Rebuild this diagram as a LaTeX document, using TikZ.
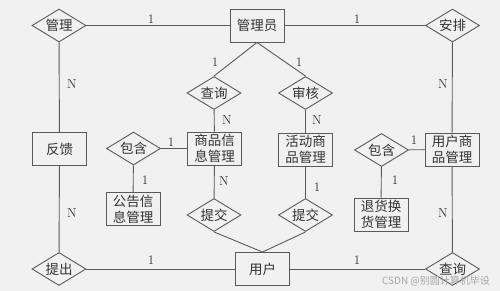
\documentclass[tikz,border=0pt]{standalone}
\usepackage{fontspec}
\newfontfamily\cjk{Noto Sans CJK SC}
\usetikzlibrary{shapes.geometric}
\definecolor{bgc}{HTML}{F1F1F1}
\definecolor{linec}{HTML}{5A5A5A}
\definecolor{txtc}{HTML}{333333}
\tikzset{
  ent/.style={draw=linec, line width=0.9pt, rectangle, minimum width=54pt, minimum height=33pt, inner sep=0pt, align=center, font=\cjk\fontsize{13.5}{16}\selectfont, text=txtc},
  rel/.style={draw=linec, line width=0.9pt, diamond, shape aspect=1.6, minimum width=54pt, minimum height=33pt, inner sep=0pt, font=\cjk\fontsize{13.5}{15}\selectfont, text=txtc},
  conn/.style={draw=linec, line width=0.9pt},
  card/.style={font=\fontsize{13}{15}\selectfont, text=txtc, inner sep=0pt}
}
\begin{document}
\begin{tikzpicture}[x=1pt, y=-1pt]
\fill[bgc] (0,0) rectangle (500,291);
\useasboundingbox (0,0) rectangle (500,291);
% top row
\node[rel] (guanli) at (59,25.5) {管理};
\node[ent] (admin) at (257,25.5) {管理员};
\node[rel] (anpai) at (452.5,25.5) {安排};
% second row diamonds
\node[rel] (chaxun1) at (214,93) {查询};
\node[rel] (shenhe) at (305.5,93) {审核};
% middle row
\node[ent] (fankui) at (59.5,149) {反馈};
\node[rel] (baohan1) at (133.5,148.5) {包含};
\node[ent] (spxx) at (214.5,148.5) {商品信\\息管理};
\node[ent] (hdsp) at (305.5,149.5) {活动商\\品管理};
\node[rel] (baohan2) at (381.5,150) {包含};
\node[ent] (yhsp) at (452,149.5) {用户商\\品管理};
% lower middle
\node[ent] (gonggao) at (133,209) {公告信\\息管理};
\node[rel] (tijiao1) at (214,215) {提交};
\node[rel] (tijiao2) at (305.5,215) {提交};
\node[ent] (tuihuo) at (381,214.5) {退货换\\货管理};
% bottom row
\node[rel] (tichu) at (59,269) {提出};
\node[ent] (user) at (262.5,269) {用户};
\node[rel] (chaxun2) at (452.5,269) {查询};
% connectors
\draw[conn] (guanli) -- (admin);
\draw[conn] (admin) -- (anpai);
\draw[conn] (guanli) -- (fankui);
\draw[conn] (fankui) -- (tichu);
\draw[conn] (tichu) -- (user);
\draw[conn] (user) -- (chaxun2);
\draw[conn] (anpai) -- (yhsp);
\draw[conn] (yhsp) -- (chaxun2);
\draw[conn] (admin.south) -- (chaxun1.north);
\draw[conn] (admin.south) -- (shenhe.north);
\draw[conn] (chaxun1) -- (spxx);
\draw[conn] (shenhe) -- (hdsp);
\draw[conn] (baohan1) -- (spxx);
\draw[conn] (baohan1) -- (gonggao);
\draw[conn] (spxx) -- (tijiao1);
\draw[conn] (hdsp) -- (tijiao2);
\draw[conn] (tijiao1.south) -- (user.north);
\draw[conn] (tijiao2.south) -- (user.north);
\draw[conn] (baohan2) -- (yhsp);
\draw[conn] (baohan2) -- (tuihuo);
% cardinalities
\node[card] (c1) at (151,19) {1};
\node[card] (c2) at (357,19) {1};
\node[card] (c3) at (72,84) {N};
\node[card] (c4) at (443,84) {N};
\node[card] (c5) at (215,62) {1};
\node[card] (c6) at (299,62) {1};
\node[card] (c7) at (227,120) {N};
\node[card] (c8) at (317,120) {N};
\node[card] (c9) at (171,142) {1};
\node[card] (c10) at (414,140) {1};
\node[card] (c11) at (145,180) {1};
\node[card] (c12) at (224,181) {N};
\node[card] (c13) at (317,187) {1};
\node[card] (c14) at (395,180) {1};
\node[card] (c15) at (72,213) {N};
\node[card] (c16) at (443,213) {N};
\node[card] (c17) at (151,260) {1};
\node[card] (c18) at (357,260) {1};
% watermark
\node[font=\cjk\fontsize{10}{12}\selectfont, text=black!35, inner sep=0pt] (wm) at (436,281) {CSDN @别圆计算机毕设};
\end{tikzpicture}
\end{document}
